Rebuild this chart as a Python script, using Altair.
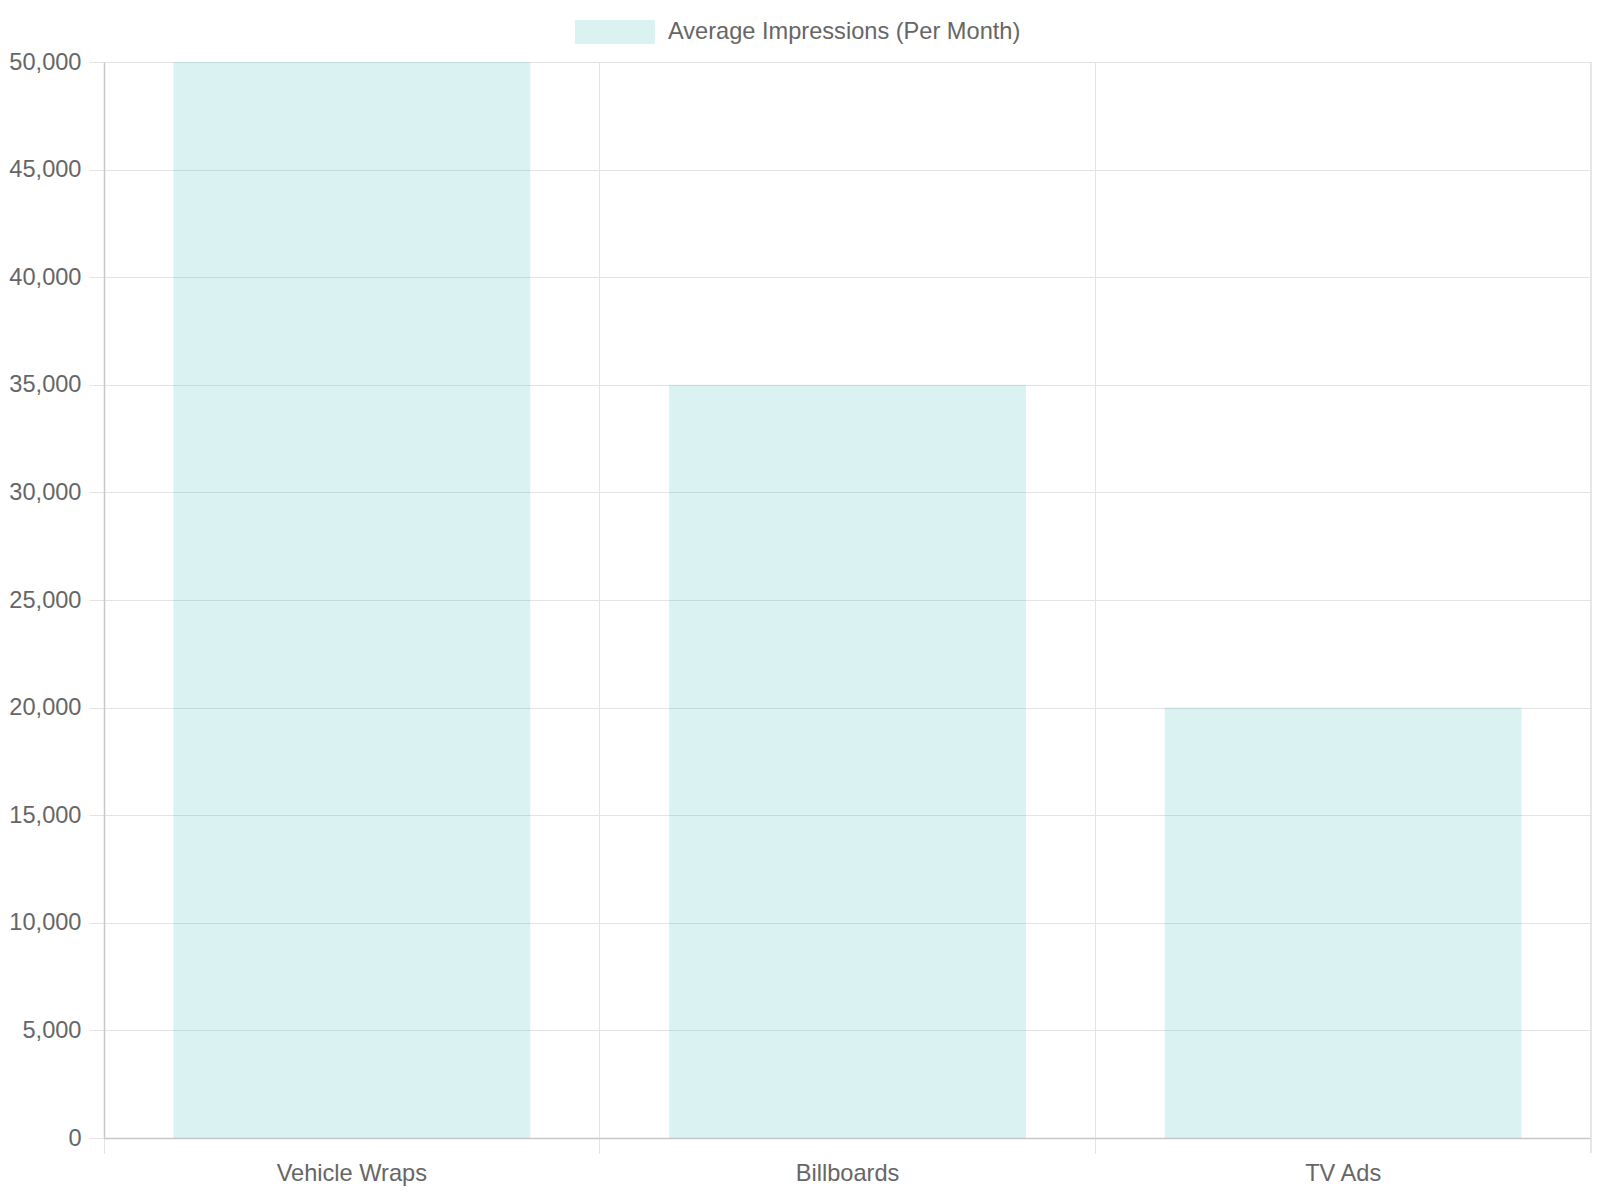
import altair as alt
import pandas as pd

categories = ["Vehicle Wraps", "Billboards", "TV Ads"]
impressions = [50000, 35000, 20000]
series_name = "Average Impressions (Per Month)"
y_ticks = list(range(0, 50001, 5000))

df = pd.DataFrame({
    "category": categories,
    "value": impressions,
    "series": [series_name] * len(categories),
})

W = 1487
H = 1076
FONT = "Liberation Sans"
FS = 23.6
TEXT = "#666666"
GRID = "#e3e3e3"
AXIS = "#c8c8c8"

bars = alt.Chart(df).mark_bar(
    fillOpacity=0.2, strokeWidth=0, width=alt.RelativeBandSize(0.72)
).encode(
    x=alt.X(
        "category:N",
        sort=categories,
        scale=alt.Scale(paddingInner=0, paddingOuter=0),
        axis=alt.Axis(
            title=None,
            labelAngle=0,
            labelFontSize=FS,
            labelColor=TEXT,
            labelPadding=8,
            tickSize=15,
            tickColor=GRID,
            bandPosition=0,
            grid=True,
            gridColor=GRID,
            domainColor=AXIS,
            domainWidth=1.5,
        ),
    ),
    y=alt.Y(
        "value:Q",
        scale=alt.Scale(domain=[0, 50000], nice=False),
        axis=alt.Axis(
            title=None,
            values=y_ticks,
            format=",.0f",
            labelFontSize=FS,
            labelColor=TEXT,
            labelPadding=8,
            tickSize=15,
            tickColor=GRID,
            gridColor=GRID,
            domainColor=AXIS,
            domainWidth=1.5,
        ),
    ),
    color=alt.Color(
        "series:N",
        scale=alt.Scale(range=["#4bc0c0"]),
        legend=alt.Legend(
            title=None,
            orient="none",
            legendX=471,
            legendY=-70,
            padding=0,
            symbolType="M-1,-0.3L1,-0.3L1,0.3L-1,0.3Z",
            symbolSize=6400,
            symbolOpacity=0.2,
            symbolStrokeWidth=0,
            labelOffset=13,
            labelFontSize=FS,
            labelColor=TEXT,
            labelLimit=1000,
        ),
    ),
)

edge = alt.Chart(df).mark_rule(color=GRID, strokeWidth=1).encode(
    x=alt.value(W), y=alt.value(0), y2=alt.value(H + 15)
)

chart = alt.layer(bars, edge).properties(
    width=W,
    height=H,
    autosize=alt.AutoSizeParams(type="none"),
    padding={"left": 96, "top": 54, "right": 1, "bottom": 48},
).configure(font=FONT).configure_view(stroke=None)

chart.save("out.html", embed_options={"renderer": "svg", "actions": False})
